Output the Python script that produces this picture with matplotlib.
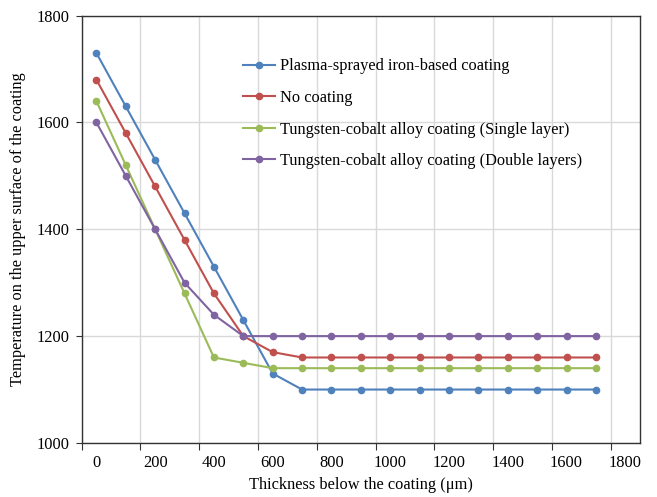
import numpy as np
import matplotlib.pyplot as plt

plt.rcParams['font.family'] = ['Liberation Serif', 'DejaVu Serif']
plt.rcParams['font.size'] = 11.8

# thickness below the coating (um)
thickness = [0, 100, 200, 300, 400, 500, 600, 700, 800, 900,
             1000, 1100, 1200, 1300, 1400, 1500, 1600, 1700]

# temperature on the upper surface
plasma = [1730, 1630, 1530, 1430, 1330, 1230, 1130, 1100, 1100, 1100,
          1100, 1100, 1100, 1100, 1100, 1100, 1100, 1100]
no_coating = [1680, 1580, 1480, 1380, 1280, 1200, 1170, 1160, 1160, 1160,
              1160, 1160, 1160, 1160, 1160, 1160, 1160, 1160]
wc_single = [1640, 1520, 1400, 1280, 1160, 1150, 1140, 1140, 1140, 1140,
             1140, 1140, 1140, 1140, 1140, 1140, 1140, 1140]
wc_double = [1600, 1500, 1400, 1300, 1240, 1200, 1200, 1200, 1200, 1200,
             1200, 1200, 1200, 1200, 1200, 1200, 1200, 1200]

series = [
    (plasma, '#4F81BD', 'Plasma-sprayed iron-based coating'),
    (no_coating, '#C0504D', 'No coating'),
    (wc_single, '#9BBB59', 'Tungsten-cobalt alloy coating (Single layer)'),
    (wc_double, '#8064A2', 'Tungsten-cobalt alloy coating (Double layers)'),
]

fig = plt.figure(figsize=(6.57, 4.97), dpi=100)
ax = fig.add_axes([0.1243, 0.1087, 0.8499, 0.8601])

for vals, col, lab in series:
    ax.plot(thickness, vals, color=col, lw=1.5, marker='o', ms=4.5, label=lab)

ax.set_xlim(-50, 1850)
ax.set_ylim(1000, 1800)

# tick marks / gridlines sit half a step left of the labels
ax.set_xticks(np.arange(-50, 1851, 200))
ax.set_xticklabels([])
ax.set_xticks(np.arange(0, 1801, 200), minor=True)
ax.set_xticklabels([str(v) for v in range(0, 1801, 200)], minor=True)
ax.tick_params(axis='x', which='major', direction='out', length=5, color='#333333')
ax.tick_params(axis='x', which='minor', length=0, pad=9)
ax.set_yticks(np.arange(1000, 1801, 200))
ax.tick_params(axis='y', direction='out', length=4, pad=5, color='#333333')

ax.grid(True, which='major', color='#d9d9d9', lw=1)
ax.set_axisbelow(True)
for s in ax.spines.values():
    s.set_color('#333333')
    s.set_linewidth(1)

ax.set_xlabel('Thickness below the coating (\u03bcm)', labelpad=4)
ax.set_ylabel('Temperature on the upper surface of the coating', labelpad=7)

ax.legend(loc='upper left', bbox_to_anchor=(0.278, 0.915), frameon=False,
          handlelength=1.95, handletextpad=0.3, labelspacing=0.95,
          borderaxespad=0)

fig.savefig('out.png', dpi=100)
